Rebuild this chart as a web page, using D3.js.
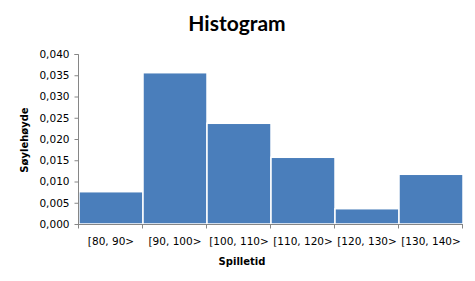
<!DOCTYPE html>
<html>
<head>
<meta charset="utf-8">
<script src="https://cdn.jsdelivr.net/npm/d3@7"></script>
<style>
  body { margin: 0; background: #fff; }
  svg { display: block; }
  .tick text { font-family: "DejaVu Sans", Tahoma, sans-serif; font-size: 10.5px; fill: #000; }
</style>
</head>
<body>
<script>
  // bin labels and bar heights (density)
  const categories = ["[80, 90>", "[90, 100>", "[100, 110>", "[110, 120>", "[120, 130>", "[130, 140>"];
  const heights = [0.0076, 0.0356, 0.0237, 0.0157, 0.0036, 0.0117];
  const yTicks = [0, 0.005, 0.01, 0.015, 0.02, 0.025, 0.03, 0.035, 0.04];

  const width = 475, height = 281;
  const margin = { top: 54, right: 12, bottom: 57, left: 79 };

  const svg = d3.select("body").append("svg")
    .attr("width", width)
    .attr("height", height);

  const x = d3.scaleBand()
    .domain(categories)
    .range([margin.left, width - margin.right])
    .padding(0);

  const y = d3.scaleLinear()
    .domain([0, 0.04])
    .range([height - margin.bottom, margin.top]);

  // title
  svg.append("text")
    .attr("x", 237)
    .attr("y", 31)
    .attr("text-anchor", "middle")
    .attr("font-family", "Lato, 'Open Sans', sans-serif")
    .attr("font-weight", "bold")
    .attr("font-size", 21)
    .text("Histogram");

  // bars
  svg.selectAll(".bar")
    .data(heights)
    .enter()
    .append("rect")
    .attr("class", "bar")
    .attr("x", (d, i) => x(categories[i]))
    .attr("width", x.bandwidth())
    .attr("y", d => y(d))
    .attr("height", d => y(0) - y(d))
    .attr("fill", "#4a7ebb")
    .attr("stroke", "#fff")
    .attr("stroke-width", 1.5);

  // y axis
  const yAxis = svg.append("g")
    .attr("transform", `translate(${margin.left - 0.5},0)`)
    .call(d3.axisLeft(y)
      .tickValues(yTicks)
      .tickSize(4)
      .tickPadding(5)
      .tickFormat(d => d3.format(".3f")(d).replace(".", ",")));
  yAxis.selectAll("path, line").attr("stroke", "#868686");
  yAxis.select(".domain").attr("d", `M-4,${y(0.04) + 0.5}H0V${y(0) + 0.5}`);

  // x axis
  const xAxis = svg.append("g")
    .attr("transform", `translate(0,${y(0) + 0.5})`)
    .call(d3.axisBottom(x).tickSize(0).tickPadding(13));
  xAxis.select(".domain").attr("stroke", "#868686").attr("d", `M${margin.left - 1},0H${width - margin.right}`);
  xAxis.selectAll(".tick line").remove();
  xAxis.selectAll(".bound")
    .data(d3.range(categories.length + 1))
    .enter()
    .append("line")
    .attr("x1", i => margin.left - 0.5 + i * x.bandwidth())
    .attr("x2", i => margin.left - 0.5 + i * x.bandwidth())
    .attr("y1", 0)
    .attr("y2", 4)
    .attr("stroke", "#868686");

  // axis titles
  svg.append("text")
    .attr("x", 242)
    .attr("y", 265)
    .attr("text-anchor", "middle")
    .attr("font-family", "'DejaVu Sans', Tahoma, sans-serif")
    .attr("font-weight", "bold")
    .attr("font-size", 10)
    .text("Spilletid");

  svg.append("text")
    .attr("transform", "translate(28,140) rotate(-90)")
    .attr("text-anchor", "middle")
    .attr("font-family", "'DejaVu Sans', Tahoma, sans-serif")
    .attr("font-weight", "bold")
    .attr("font-size", 10)
    .text("Søylehøyde");
</script>
</body>
</html>
